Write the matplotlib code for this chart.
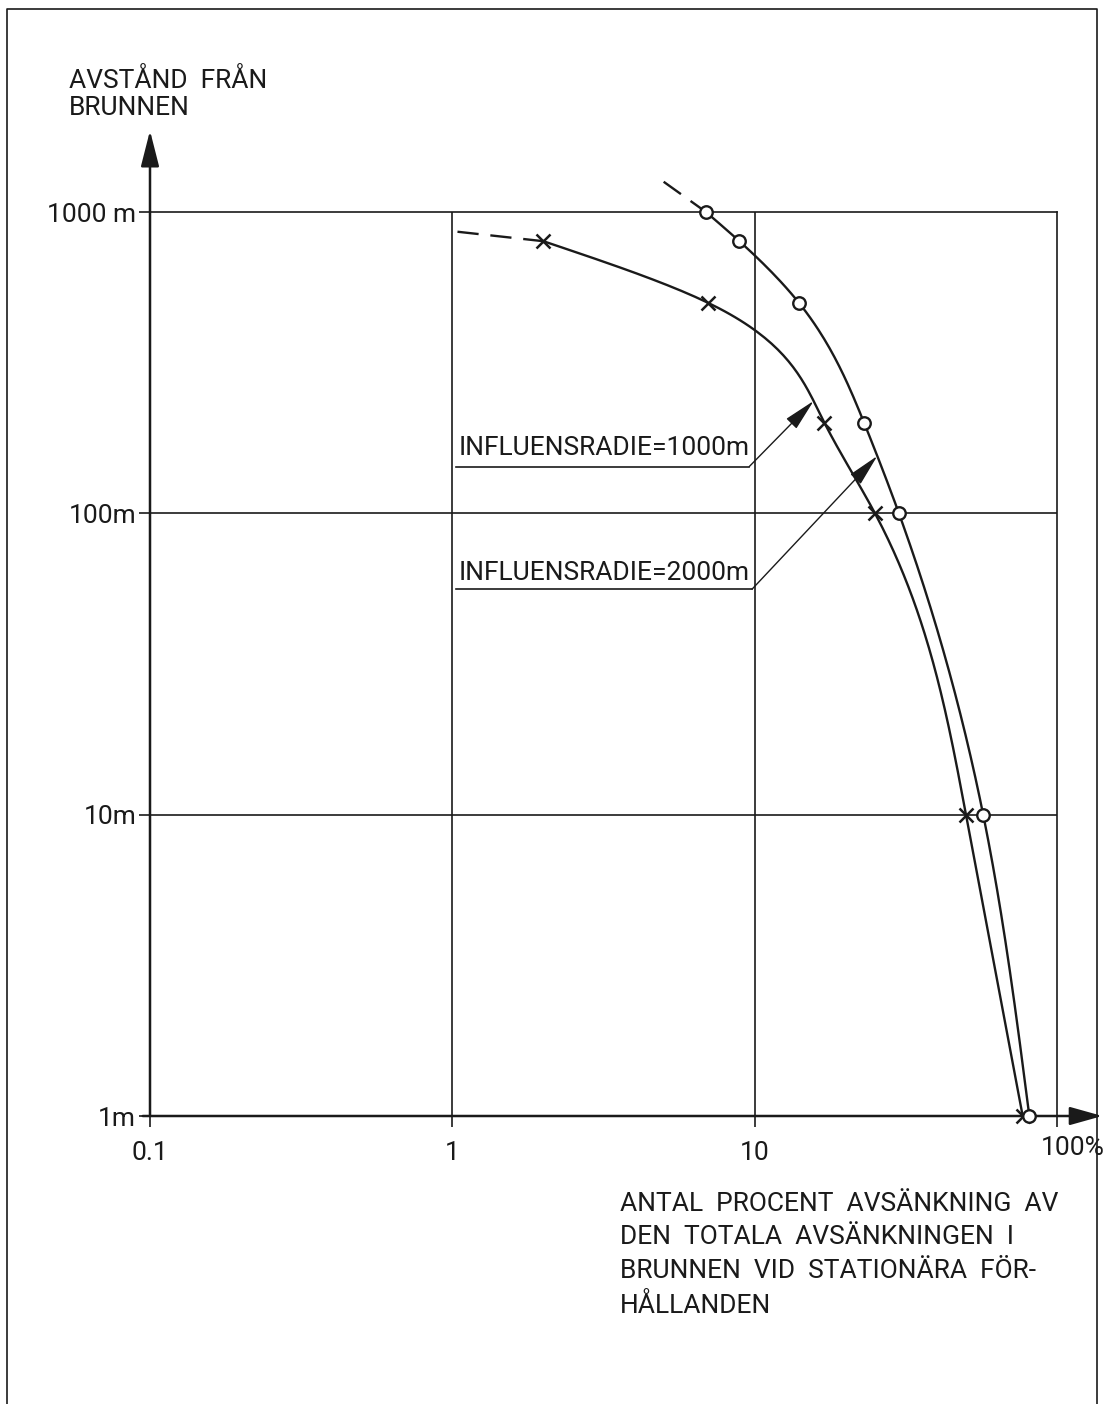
import numpy as np
import matplotlib
matplotlib.use('Agg')
import matplotlib.pyplot as plt
from matplotlib.lines import Line2D

plt.rcParams['font.family'] = ['Roboto', 'DejaVu Sans']

# Data (x = % drawdown, y = distance from the well in m)
r1000_x = [2.0, 7.0, 17.0, 25.0, 50.0, 77.0]
r1000_y = [800, 500, 200, 100, 10, 1]
r1000_dash_x = [1.04, 2.0]
r1000_dash_y = [860, 800]

r2000_x = [6.9, 8.9, 14.0, 23.0, 30.0, 57.0, 81.0]
r2000_y = [1000, 800, 500, 200, 100, 10, 1]
r2000_dash_x = [5.0, 6.9]
r2000_dash_y = [1260, 1000]

x_ticks = [0.1, 1, 10, 100]
x_labels = ['0.1', '1', '10', '']
y_ticks = [1, 10, 100, 1000]
y_labels = ['1m', '10m', '100m', '1000 m']

ink = '#1a1a1a'


def smooth(xs, ys, n=300):
    # natural cubic spline of log(x) against log(y), only for drawing the line
    t = np.log10(ys)[::-1]
    v = np.log10(xs)[::-1]
    k = len(t)
    h = np.diff(t)
    A = np.zeros((k, k))
    b = np.zeros(k)
    A[0, 0] = A[-1, -1] = 1
    for i in range(1, k - 1):
        A[i, i - 1] = h[i - 1]
        A[i, i] = 2 * (h[i - 1] + h[i])
        A[i, i + 1] = h[i]
        b[i] = 6 * ((v[i + 1] - v[i]) / h[i] - (v[i] - v[i - 1]) / h[i - 1])
    m = np.linalg.solve(A, b)
    tt = np.linspace(t[0], t[-1], n)
    j = np.clip(np.searchsorted(t, tt) - 1, 0, k - 2)
    d = tt - t[j]
    hj = h[j]
    vv = (v[j] + ((v[j + 1] - v[j]) / hj - hj * (2 * m[j] + m[j + 1]) / 6) * d
          + m[j] / 2 * d ** 2 + (m[j + 1] - m[j]) / (6 * hj) * d ** 3)
    return 10 ** vv, 10 ** tt


fig = plt.figure(figsize=(11.03, 14.04), dpi=100)
ax = fig.add_axes([150 / 1103, 288 / 1404, 907 / 1103, 904 / 1404])
ax.set_xscale('log')
ax.set_yscale('log')
ax.set_xlim(0.1, 100)
ax.set_ylim(1, 1000)

for s in ['left', 'bottom']:
    ax.spines[s].set_visible(False)
for s in ['top', 'right']:
    ax.spines[s].set_linewidth(1.2)
    ax.spines[s].set_color(ink)

# grid
for gx in [1, 10]:
    ax.axvline(gx, color=ink, lw=1.2, zorder=1)
for gy in [10, 100]:
    ax.axhline(gy, color=ink, lw=1.2, zorder=1)

# axes with arrows
ax.annotate('', xy=(0, 1.09), xytext=(0, 0), xycoords='axes fraction',
            arrowprops=dict(arrowstyle='-|>,head_length=1.1,head_width=0.28', color=ink, lw=1.8,
                            mutation_scale=20, shrinkA=0, shrinkB=0), annotation_clip=False)
ax.annotate('', xy=(1.05, 0), xytext=(-0.008, 0), xycoords='axes fraction',
            arrowprops=dict(arrowstyle='-|>,head_length=1.0,head_width=0.28', color=ink, lw=1.8,
                            mutation_scale=20, shrinkA=0, shrinkB=0), annotation_clip=False)

ax.set_xticks(x_ticks)
ax.set_xticklabels(x_labels)
ax.set_yticks(y_ticks)
ax.set_yticklabels(y_labels)
ax.minorticks_off()
ax.tick_params(axis='both', direction='out', length=8, width=1.2, color=ink,
               labelsize=19, labelcolor=ink)
ax.tick_params(axis='x', pad=10)
ax.tick_params(axis='y', pad=2)
ax.annotate('100%', xy=(100, 1), xytext=(11, -23), textcoords='offset points',
            ha='center', va='center', fontsize=19, color=ink, annotation_clip=False)

# curves
curves = {}
sx, sy = smooth(r1000_x, r1000_y)
curves['1000'] = (sx, sy)
ax.plot(sx, sy, color=ink, lw=1.7, zorder=3, clip_on=False)
ax.plot(r1000_dash_x, r1000_dash_y, color=ink, lw=1.7, dashes=(9, 5), zorder=3, clip_on=False)
ax.plot(r1000_x, r1000_y, ls='none', marker='x', ms=10, mew=1.8, color=ink, zorder=4, clip_on=False)

sx, sy = smooth(r2000_x, r2000_y)
curves['2000'] = (sx, sy)
ax.plot(sx, sy, color=ink, lw=1.7, zorder=3, clip_on=False)
ax.plot(r2000_dash_x, r2000_dash_y, color=ink, lw=1.7, dashes=(9, 5), zorder=3, clip_on=False)
ax.plot(r2000_x, r2000_y, ls='none', marker='o', ms=9, mew=1.7, mfc='white', color=ink,
        zorder=4, clip_on=False)

# labels with leaders, arrow tips sit on their curve
for key, txt, ty, tip_y, start in [('1000', 'INFLUENSRADIE=1000m', 150, 236, (9.6, 143)),
                                   ('2000', 'INFLUENSRADIE=2000m', 58, 155, (9.8, 56))]:
    cx, cy = curves[key]
    tip_x = 10 ** np.interp(np.log10(tip_y), np.log10(cy), np.log10(cx))
    ax.text(1.05, ty, txt, fontsize=19, color=ink, ha='left', va='bottom')
    ax.plot([1.03, start[0]], [start[1], start[1]], color=ink, lw=1.2)
    ax.annotate('', xy=(tip_x, tip_y), xytext=start,
                arrowprops=dict(arrowstyle='-|>,head_length=1.0,head_width=0.22', color=ink,
                                lw=1.0, mutation_scale=20, shrinkA=0, shrinkB=0))

# axis titles
fig.text(69 / 1103, 1 - 68 / 1404, 'AVSTÅND  FRÅN\nBRUNNEN', fontsize=19, color=ink,
         ha='left', va='top', linespacing=1.15)
fig.text(620 / 1103, 1 - 1192 / 1404,
         'ANTAL  PROCENT  AVSÄNKNING  AV\nDEN  TOTALA  AVSÄNKNINGEN  I\n'
         'BRUNNEN  VID  STATIONÄRA  FÖR-\nHÅLLANDEN',
         fontsize=19, color=ink, ha='left', va='top', linespacing=1.5)

# page border
fig.add_artist(Line2D([7 / 1103, 7 / 1103, 1097 / 1103, 1097 / 1103],
                      [0, 1 - 9 / 1404, 1 - 9 / 1404, 0], color=ink, lw=1.2))

fig.savefig('out.png', dpi=100, facecolor='white')
